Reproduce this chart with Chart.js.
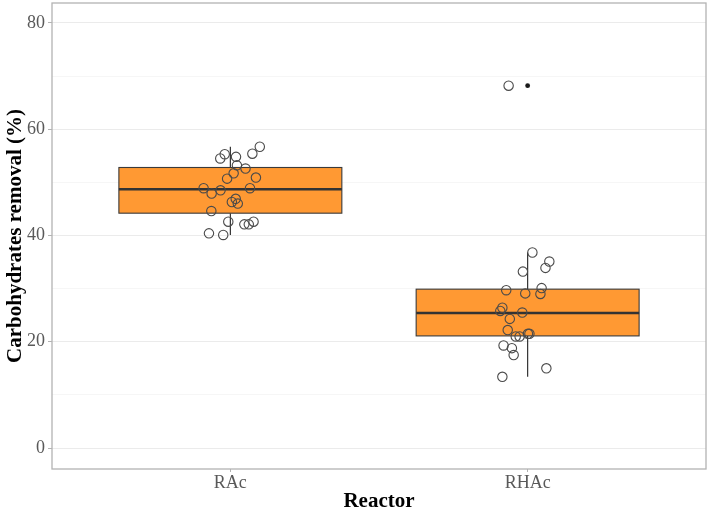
<!DOCTYPE html>
<html>
<head>
<meta charset="utf-8">
<script src="https://cdn.jsdelivr.net/npm/chart.js@4.4.1/dist/chart.umd.min.js"></script>
<style>
  html, body { margin: 0; padding: 0; background: #ffffff; }
  canvas { display: block; }
</style>
</head>
<body>
<canvas id="chart" width="709" height="522"></canvas>
<script>
// ---- data ----
const categories = ['RAc', 'RHAc'];

// box statistics per reactor
const q1Values = [44.2, 21.1];
const medianValues = [48.7, 25.4];
const q3Values = [52.8, 29.9];
const whiskerLow = [40.1, 13.4];
const whiskerHigh = [56.7, 36.8];
const outlierValues = [[], [68.2]];

// jittered observations (value + horizontal jitter in category units)
const rAcValues = [56.7, 55.4, 55.3, 54.5, 54.8, 53.2, 52.6, 51.7, 50.7, 50.9, 48.9, 47.9,
                   48.5, 48.9, 46.9, 46.3, 46.0, 44.6, 42.6, 42.1, 42.1, 42.6, 40.4, 40.1];
const rAcJitter = [0.099, 0.074, -0.019, -0.034, 0.019, 0.022, 0.051, 0.011, -0.011, 0.086, -0.090, -0.063,
                   -0.033, 0.066, 0.018, 0.005, 0.025, -0.064, -0.007, 0.047, 0.062, 0.078, -0.072, -0.024];
const rHAcValues = [36.8, 35.1, 33.9, 33.2, 29.7, 30.1, 29.0, 29.1, 26.4, 25.8, 25.5, 24.3,
                    22.2, 21.0, 21.0, 21.5, 21.5, 19.3, 18.8, 17.5, 15.0, 13.4, 68.2];
const rHAcJitter = [0.016, 0.073, 0.060, -0.016, -0.072, 0.047, 0.043, -0.008, -0.085, -0.092, -0.018, -0.060,
                    -0.067, -0.040, -0.027, 0.001, 0.006, -0.081, -0.053, -0.047, 0.063, -0.085, -0.064];

const yTicks = [0, 10, 20, 30, 40, 50, 60, 70, 80];

// ---- helpers ----
const BOX_HALF = 0.375;
const SERIF = '"Liberation Serif", "Times New Roman", serif';

function toPoints(values, jitter, idx) {
    return values.map((v, i) => ({ x: idx + 1 + jitter[i], y: v }));
}

const outlierPoints = [];
outlierValues.forEach((list, i) => list.forEach(v => outlierPoints.push({ x: i + 1, y: v })));

// ---- boxplot drawn under the points ----
const boxPlugin = {
    id: 'boxes',
    beforeDatasetsDraw(chart) {
        const { ctx, scales: { x, y } } = chart;
        ctx.save();
        categories.forEach((c, i) => {
            const cx = x.getPixelForValue(i + 1);
            const left = x.getPixelForValue(i + 1 - BOX_HALF);
            const right = x.getPixelForValue(i + 1 + BOX_HALF);
            const yq1 = y.getPixelForValue(q1Values[i]);
            const yq3 = y.getPixelForValue(q3Values[i]);
            const ymed = y.getPixelForValue(medianValues[i]);

            // whiskers
            ctx.strokeStyle = '#333333';
            ctx.lineWidth = 1.2;
            ctx.beginPath();
            ctx.moveTo(cx, y.getPixelForValue(whiskerHigh[i]));
            ctx.lineTo(cx, yq3);
            ctx.moveTo(cx, yq1);
            ctx.lineTo(cx, y.getPixelForValue(whiskerLow[i]));
            ctx.stroke();

            // box
            ctx.fillStyle = '#ff9933';
            ctx.fillRect(left, yq3, right - left, yq1 - yq3);
            ctx.strokeStyle = '#3a3a3a';
            ctx.lineWidth = 1.1;
            ctx.strokeRect(left, yq3, right - left, yq1 - yq3);

            // median
            ctx.lineWidth = 2.4;
            ctx.strokeStyle = '#333333';
            ctx.beginPath();
            ctx.moveTo(left, ymed);
            ctx.lineTo(right, ymed);
            ctx.stroke();
        });
        ctx.restore();
    },
    afterDraw(chart) {
        // panel border
        const { ctx, chartArea: a } = chart;
        ctx.save();
        ctx.strokeStyle = '#b3b3b3';
        ctx.lineWidth = 1.3;
        ctx.strokeRect(a.left, a.top, a.right - a.left, a.bottom - a.top);
        ctx.restore();
    }
};

new Chart(document.getElementById('chart'), {
    type: 'scatter',
    data: {
        datasets: [
            {
                label: 'outliers',
                data: outlierPoints,
                pointRadius: 2.4,
                pointBackgroundColor: '#1a1a1a',
                pointBorderColor: '#1a1a1a',
                pointBorderWidth: 0
            },
            {
                label: categories[0],
                data: toPoints(rAcValues, rAcJitter, 0),
                pointRadius: 4.7,
                pointBackgroundColor: 'rgba(0,0,0,0)',
                pointBorderColor: '#4a4a4a',
                pointBorderWidth: 1.1
            },
            {
                label: categories[1],
                data: toPoints(rHAcValues, rHAcJitter, 1),
                pointRadius: 4.7,
                pointBackgroundColor: 'rgba(0,0,0,0)',
                pointBorderColor: '#4a4a4a',
                pointBorderWidth: 1.1
            }
        ]
    },
    options: {
        responsive: false,
        devicePixelRatio: 1,
        animation: false,
        layout: { autoPadding: false, padding: { top: 3, right: 3, left: 0, bottom: 0 } },
        plugins: {
            legend: { display: false },
            tooltip: { enabled: false }
        },
        scales: {
            x: {
                type: 'linear',
                min: 0.4,
                max: 2.6,
                afterBuildTicks: s => { s.ticks = categories.map((c, i) => ({ value: i + 1 })); },
                afterFit: s => { s.height = 53; s.paddingLeft = 0; s.paddingRight = 0; },
                border: { display: false },
                grid: { drawOnChartArea: false, tickLength: 3, tickColor: '#b3b3b3', tickWidth: 1 },
                ticks: {
                    padding: 0,
                    color: '#595959',
                    font: { family: SERIF, size: 18 },
                    callback: v => categories[Math.round(v) - 1]
                },
                title: {
                    display: true,
                    text: 'Reactor',
                    color: '#000000',
                    font: { family: SERIF, size: 21, weight: 'bold' },
                    padding: { top: 0, bottom: 8 }
                }
            },
            y: {
                type: 'linear',
                min: -3.95,
                max: 83.76,
                afterBuildTicks: s => { s.ticks = yTicks.map(v => ({ value: v })); },
                afterFit: s => { s.width = 52; s.paddingTop = 0; s.paddingBottom = 0; },
                border: { display: false },
                grid: {
                    color: c => (c.tick && c.tick.value % 20 === 0) ? '#ebebeb' : '#f4f4f4',
                    lineWidth: c => (c.tick && c.tick.value % 20 === 0) ? 1 : 0.8,
                    tickLength: 4,
                    tickColor: c => (c.tick && c.tick.value % 20 === 0) ? '#b3b3b3' : 'rgba(0,0,0,0)'
                },
                ticks: {
                    padding: 3,
                    color: '#595959',
                    font: { family: SERIF, size: 18 },
                    callback: v => (v % 20 === 0 ? v : '')
                },
                title: {
                    display: true,
                    text: 'Carbohydrates removal (%)',
                    color: '#000000',
                    font: { family: SERIF, size: 21, weight: 'bold' },
                    padding: { top: 3, bottom: 0 }
                }
            }
        }
    },
    plugins: [boxPlugin]
});
</script>
</body>
</html>
